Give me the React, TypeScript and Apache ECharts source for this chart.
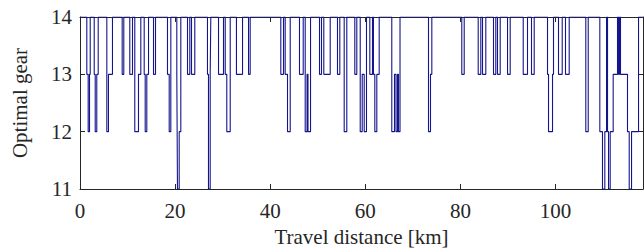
import React, { useEffect, useRef } from "react";
import * as echarts from "echarts";

// Travel distance [km] at which the optimal gear changes, and the gear from that point on
const changeKm: number[] = [
  0,
  1.43, 1.72, 2.0, 2.15,
  2.99, 3.2, 3.53, 3.83,
  5.64, 5.99, 6.83,
  8.87, 9.21,
  10.47, 11.04,
  11.52, 12.3, 12.79,
  13.5, 13.71, 14.05, 14.41,
  15.46, 15.88,
  18.4, 18.76, 19.1,
  20.36, 20.5, 20.86, 21.2,
  22.61, 23.09,
  23.45, 24.14,
  26.81, 27.02, 27.38, 27.51,
  29.13, 30.18,
  30.54, 30.87, 31.59,
  32.9, 34.18,
  35.44, 35.79,
  42.23, 42.8,
  43.15, 43.64, 44.21,
  46.16, 46.94,
  47.36, 47.75, 47.95, 48.48,
  50.37, 50.79,
  51.27, 52.62,
  54.15, 54.64,
  55.56, 56.11,
  57.79, 58.21,
  58.93, 59.35, 59.77, 60.25,
  60.95, 61.51,
  61.72, 62.0, 62.42, 62.92,
  65.57, 66.14, 66.46, 66.77, 66.98, 67.3,
  73.29, 73.71, 73.99,
  80.29, 80.8,
  83.74, 84.29,
  84.65, 85.34,
  86.96, 87.44,
  87.8, 88.37,
  89.91, 90.47,
  93.21, 94.11,
  94.95, 95.52,
  98.32, 98.53, 99.37, 99.58,
  100.63, 101.41,
  102.1, 102.88,
  106.37, 106.88,
  109.32, 109.88, 110.37, 110.73, 110.94, 111.15, 111.5, 112.13,
  113.04, 113.25, 113.46, 113.67,
  115.14, 115.5, 115.99, 117.46,
  118.4,
];

const gearLevel: number[] = [
  14,
  13, 12, 13, 14,
  13, 12, 13, 14,
  12, 13, 14,
  13, 14,
  13, 14,
  12, 13, 14,
  13, 12, 13, 14,
  13, 14,
  13, 12, 14,
  13, 11, 12, 14,
  13, 14,
  13, 14,
  13, 11, 13, 14,
  13, 14,
  13, 12, 14,
  13, 14,
  13, 14,
  13, 14,
  13, 12, 14,
  13, 14,
  12, 13, 12, 14,
  13, 14,
  13, 14,
  13, 14,
  12, 14,
  13, 14,
  12, 13, 12, 14,
  13, 14,
  13, 12, 13, 14,
  12, 13, 12, 13, 12, 14,
  12, 13, 14,
  13, 14,
  13, 14,
  13, 14,
  13, 14,
  13, 14,
  13, 14,
  13, 14,
  13, 14,
  13, 12, 13, 14,
  13, 14,
  13, 14,
  12, 14,
  12, 11, 12, 14, 12, 11, 12, 13,
  14, 13, 14, 13,
  12, 11, 12, 14,
  14,
];

const xTicks: number[] = [0, 20, 40, 60, 80, 100];
const yTicks: number[] = [11, 12, 13, 14];

const X_MAX = 118.4;
const FONT = "'Liberation Serif', 'DejaVu Serif', serif";
const AXIS_COLOR = "#262626";
const LINE_COLOR = "#14148c";
const FS = 21;

export default function App() {
  const ref = useRef<HTMLDivElement>(null);

  useEffect(() => {
    if (!ref.current) return;
    const chart = echarts.init(ref.current, undefined, { renderer: "svg" });
    const data = changeKm.map((x, i) => [x, gearLevel[i]]);
    const tickLabel = (v: number, list: number[]) =>
      list.some((t) => Math.abs(t - v) < 1e-6) ? String(v) : "";

    const baseX = {
      type: "value" as const,
      min: 0,
      max: X_MAX,
      interval: 20,
      splitLine: { show: false },
      axisLine: { show: true, onZero: false, lineStyle: { color: AXIS_COLOR, width: 1 } },
      axisTick: { show: true, inside: true, length: 5, lineStyle: { color: AXIS_COLOR } },
    };
    const baseY = {
      type: "value" as const,
      min: 11,
      max: 14,
      interval: 1,
      splitLine: { show: false },
      axisLine: { show: true, onZero: false, lineStyle: { color: AXIS_COLOR, width: 1 } },
      axisTick: { show: true, inside: true, length: 5, lineStyle: { color: AXIS_COLOR } },
    };

    chart.setOption({
      animation: false,
      grid: { left: 80, right: 1, top: 17, bottom: 59, containLabel: false },
      xAxis: [
        {
          ...baseX,
          position: "bottom",
          axisLabel: {
            show: true,
            margin: 11,
            fontFamily: FONT,
            fontSize: FS,
            color: AXIS_COLOR,
            showMaxLabel: false,
            formatter: (v: number) => tickLabel(v, xTicks),
          },
          name: "Travel distance [km]",
          nameLocation: "middle",
          nameGap: 37,
          nameTextStyle: { fontFamily: FONT, fontSize: FS, color: AXIS_COLOR },
        },
        {
          ...baseX,
          position: "top",
          axisLabel: { show: false },
        },
      ],
      yAxis: [
        {
          ...baseY,
          position: "left",
          axisLabel: {
            show: true,
            margin: 8,
            fontFamily: FONT,
            fontSize: FS,
            color: AXIS_COLOR,
            formatter: (v: number) => tickLabel(v, yTicks),
          },
          name: "Optimal gear",
          nameLocation: "middle",
          nameGap: 50,
          nameRotate: 90,
          nameTextStyle: { fontFamily: FONT, fontSize: FS, color: AXIS_COLOR },
        },
        {
          ...baseY,
          position: "right",
          axisLabel: { show: false },
        },
      ],
      series: [
        {
          type: "line",
          xAxisIndex: 0,
          yAxisIndex: 0,
          step: "end",
          symbol: "none",
          data,
          lineStyle: { color: LINE_COLOR, width: 1.1 },
          itemStyle: { color: LINE_COLOR },
          silent: true,
        },
      ],
    });

    return () => chart.dispose();
  }, []);

  return (
    <div
      ref={ref}
      style={{ position: "fixed", left: 0, top: 0, width: 644, height: 252, background: "#fff" }}
    />
  );
}
